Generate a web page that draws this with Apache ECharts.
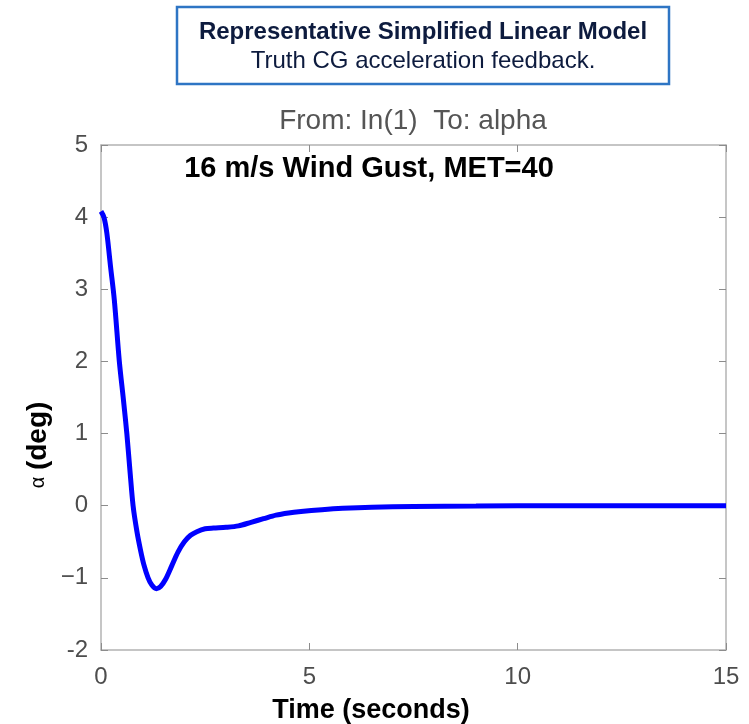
<!DOCTYPE html>
<html>
<head>
<meta charset="utf-8">
<script src="https://cdn.jsdelivr.net/npm/echarts@6/dist/echarts.min.js"></script>
<style>html,body{margin:0;padding:0;background:#fff;}#c{width:749px;height:724px;}</style>
</head>
<body>
<div id="c"></div>
<script>
// Data
const timeS = [0, 0.07, 0.14, 0.23, 0.32, 0.44, 0.54, 0.62, 0.70, 0.77, 0.86, 0.95, 1.03, 1.13, 1.22, 1.33, 1.43, 1.55, 1.70, 1.85, 2.0, 2.15, 2.3, 2.5, 2.7, 3.0, 3.3, 3.6, 3.9, 4.2, 4.5, 4.8, 5.3, 5.8, 6.5, 7.5, 9, 11, 13, 15];
const alphaDeg = [4.08, 4.00, 3.78, 3.31, 2.85, 2.00, 1.46, 1.00, 0.45, 0.00, -0.35, -0.62, -0.82, -1.00, -1.10, -1.15, -1.12, -1.02, -0.83, -0.64, -0.50, -0.41, -0.36, -0.32, -0.31, -0.30, -0.28, -0.23, -0.18, -0.13, -0.10, -0.08, -0.055, -0.036, -0.02, -0.01, -0.005, 0, 0, 0];
const xTickLabels = {0: '0', 5: '5', 10: '10', 15: '15'};
const yTickLabels = {'-2': '-2', '-1': '\u22121', 0: '0', 1: '1', 2: '2', 3: '3', 4: '4', 5: '5'};
const titleLine1 = 'Representative Simplified Linear Model';
const titleLine2 = 'Truth CG acceleration feedback.';
const subTitle = 'From: In(1)  To: alpha';
const annotation = '16 m/s Wind Gust, MET=40';
const xName = 'Time (seconds)';

const chart = echarts.init(document.getElementById('c'), null, {renderer: 'canvas'});
const FONT = '"Liberation Sans", Arial, Helvetica, sans-serif';
const frame = '#b3b3b3';
const tickCol = '#8c8c8c';
const labelCol = '#4d4d4d';

function axisBase(extra) {
  return Object.assign({
    axisLine: {show: true, onZero: false, lineStyle: {color: frame, width: 1.5}},
    axisTick: {show: true, inside: true, length: 7, lineStyle: {color: tickCol, width: 1}},
    splitLine: {show: false}
  }, extra);
}

chart.setOption({
  animation: false,
  backgroundColor: '#fff',
  grid: {left: 101, right: 23, top: 145, bottom: 74, containLabel: false},
  xAxis: [
    axisBase({
      type: 'value', position: 'bottom', min: 0, max: 15, interval: 5,
      axisLabel: {show: true, margin: 15, fontSize: 24, color: labelCol, fontFamily: FONT,
        formatter: v => xTickLabels[v] !== undefined ? xTickLabels[v] : ''}
    }),
    axisBase({
      type: 'value', position: 'top', min: 0, max: 15, interval: 5, axisLabel: {show: false}
    })
  ],
  yAxis: [
    axisBase({
      type: 'value', position: 'left', min: -2, max: 5, interval: 1,
      axisLabel: {show: true, margin: 13, fontSize: 24, color: labelCol, fontFamily: FONT,
        formatter: v => yTickLabels[v] !== undefined ? yTickLabels[v] : ''}
    }),
    axisBase({
      type: 'value', position: 'right', min: -2, max: 5, interval: 1,
      axisLabel: {show: false}
    })
  ],
  series: [{
    type: 'line',
    data: timeS.map((t, i) => [t, alphaDeg[i]]),
    xAxisIndex: 0, yAxisIndex: 0,
    smooth: 0.3,
    showSymbol: false,
    lineStyle: {color: '#0000ff', width: 5},
    clip: true
  }],
  graphic: [
    {type: 'rect', shape: {x: 177, y: 7, width: 492, height: 77},
      style: {fill: '#fff', stroke: '#2e75c4', lineWidth: 2.5}},
    {type: 'text', x: 423, y: 32, style: {text: titleLine1, fontSize: 24, fontWeight: 'bold',
      fontFamily: FONT, fill: '#0d1b3e', align: 'center', verticalAlign: 'middle'}},
    {type: 'text', x: 423, y: 61, style: {text: titleLine2, fontSize: 24,
      fontFamily: FONT, fill: '#0d1b3e', align: 'center', verticalAlign: 'middle'}},
    {type: 'text', x: 413, y: 121, style: {text: subTitle, fontSize: 28,
      fontFamily: FONT, fill: '#555555', align: 'center', verticalAlign: 'middle'}},
    {type: 'text', x: 369, y: 169, style: {text: annotation, fontSize: 29, fontWeight: 'bold',
      fontFamily: FONT, fill: '#000', align: 'center', verticalAlign: 'middle'}},
    {type: 'text', x: 371, y: 711, style: {text: xName, fontSize: 27, fontWeight: 'bold',
      fontFamily: FONT, fill: '#000', align: 'center', verticalAlign: 'middle'}},
    {type: 'text', x: 38, y: 445, rotation: Math.PI / 2,
      style: {text: '{a|\u03b1}  {d|(deg)}', align: 'center', verticalAlign: 'middle',
        rich: {
          a: {fontSize: 20, fontFamily: FONT, fill: '#000'},
          d: {fontSize: 28, fontWeight: 'bold', fontFamily: FONT, fill: '#000'}
        }}}
  ]
});
</script>
</body>
</html>
